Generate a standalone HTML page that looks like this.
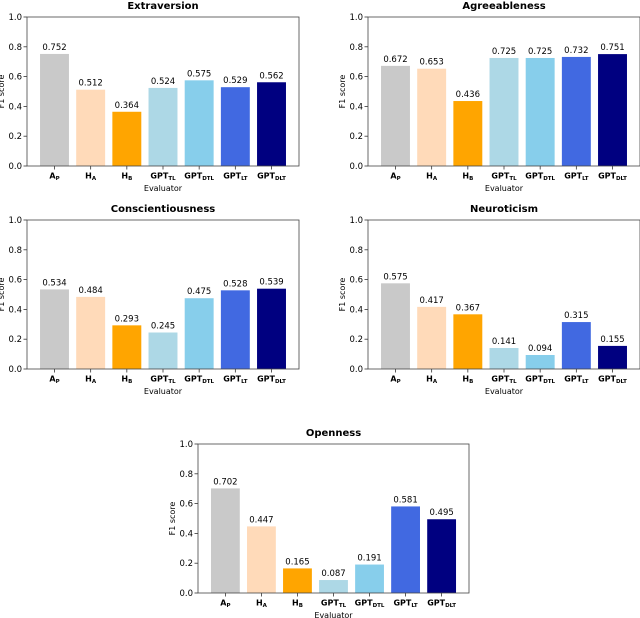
<!DOCTYPE html>
<html><head><meta charset="utf-8"><style>
body{margin:0;background:#fff;width:640px;height:618px;overflow:hidden}
svg{display:block;font-family:"DejaVu Sans","Liberation Sans",sans-serif}
</style></head><body>
<svg id="c" width="640" height="618"></svg>
<script>
const categories=[["A","P"],["H","A"],["H","B"],["GPT","TL"],["GPT","DTL"],["GPT","LT"],["GPT","DLT"]];
const traits=["Extraversion","Agreeableness","Conscientiousness","Neuroticism","Openness"];
const extraversion=[0.752,0.512,0.364,0.524,0.575,0.529,0.562];
const agreeableness=[0.672,0.653,0.436,0.725,0.725,0.732,0.751];
const conscientiousness=[0.534,0.484,0.293,0.245,0.475,0.528,0.539];
const neuroticism=[0.575,0.417,0.367,0.141,0.094,0.315,0.155];
const openness=[0.702,0.447,0.165,0.087,0.191,0.581,0.495];
const yTicks=[0,0.2,0.4,0.6,0.8,1.0];
const colors=["#c9c9c9","#ffdab9","#ffa500","#add8e6","#87ceeb","#4169e1","#000080"];
const series=[extraversion,agreeableness,conscientiousness,neuroticism,openness];
const panels=[{x:27,y:17,w:272,h:149},{x:368,y:17,w:272,h:149},{x:27,y:220,w:272,h:149},{x:368,y:220,w:272,h:149},{x:198,y:444,w:271,h:149}];
const NS="http://www.w3.org/2000/svg";
const svg=document.getElementById('c');
function mk(t,a,p){const e=document.createElementNS(NS,t);for(const k in a)e.setAttribute(k,a[k]);(p||svg).appendChild(e);return e;}
panels.forEach((P,pi)=>{
  const g=mk('g',{});
  
  
  const n=categories.length, xmin=-0.76, xmax=n-1+0.76;
  const xs=v=>P.x+(v-xmin)/(xmax-xmin)*P.w;
  const ys=v=>P.y+P.h-v*P.h;
  const slot=P.w/(xmax-xmin);
  const t=mk('text',{x:P.x+P.w/2,y:P.y-8,'text-anchor':'middle','font-size':'10','font-weight':'bold'},g);
  t.textContent=traits[pi];
  
  
  series[pi].forEach((v,i)=>{
    const r=mk('rect',{x:xs(i)-0.4*slot,y:ys(v),width:0.8*slot,height:P.y+P.h-ys(v),fill:colors[i]},g);
    
    
    const l=mk('text',{x:xs(i),y:ys(v)-4,'text-anchor':'middle','font-size':'8.5'},g);
    l.textContent=v.toFixed(3);
    
    
    mk('line',{x1:xs(i),x2:xs(i),y1:P.y+P.h,y2:P.y+P.h+3.5,stroke:'#333','stroke-width':0.8},g);
    const xl=mk('text',{x:xs(i),y:P.y+P.h+12.5,'text-anchor':'middle','font-size':'8','font-weight':'bold'},g);
    
    
    const m=mk('tspan',{},xl);m.textContent=categories[i][0];
    const s=mk('tspan',{'font-size':'5.5',dy:'1.5'},xl);s.textContent=categories[i][1];
  });
  yTicks.forEach(v=>{
    mk('line',{x1:P.x-3.5,x2:P.x,y1:ys(v),y2:ys(v),stroke:'#333','stroke-width':0.8},g);
    const yl=mk('text',{x:P.x-5,y:ys(v)+3,'text-anchor':'end','font-size':'8.5'},g);
    yl.textContent=v.toFixed(1);
    
    
  });
  mk('rect',{x:P.x,y:P.y,width:P.w,height:P.h,fill:'none',stroke:'#444','stroke-width':0.8},g);
  const xt=mk('text',{x:P.x+P.w/2,y:P.y+P.h+25,'text-anchor':'middle','font-size':'8'},g);
  xt.textContent='Evaluator';
  
  
  const cy=P.y+P.h/2, tx=P.x-23;
  const yt=mk('text',{x:tx,y:cy,'text-anchor':'middle','font-size':'8',transform:`rotate(-90 ${tx} ${cy})`},g);
  yt.textContent='F1 score';
  
  
});
</script>
</body></html>
